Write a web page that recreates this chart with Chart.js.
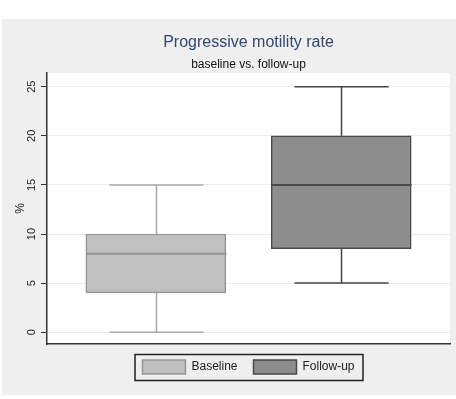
<!DOCTYPE html>
<html>
<head>
<meta charset="utf-8">
<script src="https://cdn.jsdelivr.net/npm/chart.js@4.4.0/dist/chart.umd.min.js"></script>
<style>
body { margin: 0; background: #fff; }
#wrap { position: absolute; left: 2px; top: 19px; width: 454px; height: 376px; background: #efefef; }
</style>
</head>
<body>
<div id="wrap"><canvas id="chart" width="454" height="376"></canvas></div>
<script>
// box plot values
var groups = ["Baseline", "Follow-up"];
var lowWhisker = [0, 5];
var q1 = [4, 8.5];
var median = [8, 15];
var q3 = [10, 20];
var highWhisker = [15, 25];
var yTicks = [0, 5, 10, 15, 20, 25];

// look
var fills = ["#c0c0c0", "#8d8d8d"];
var edges = ["#959595", "#4a4a4a"];
var whiskerColors = ["#a8a8a8", "#454545"];
var capHalf = 0.254; // in x units

Chart.defaults.font.family = "'Liberation Sans', Arial, sans-serif";
Chart.defaults.color = "#222";

var datasets = groups.map(function (g, i) {
    return {
        label: g,
        data: [{ x: i, y: [q1[i], q3[i]] }],
        backgroundColor: fills[i],
        borderColor: edges[i],
        borderWidth: 1.5,
        borderSkipped: false,
        barThickness: 140,
        grouped: false
    };
});

var plotBg = {
    id: "plotBg",
    beforeDraw: function (chart) {
        var a = chart.chartArea, ctx = chart.ctx;
        ctx.save();
        ctx.fillStyle = "#fff";
        ctx.fillRect(a.left, a.top, a.right - a.left, a.bottom - a.top);
        ctx.restore();
    }
};

var boxParts = {
    id: "boxParts",
    afterDatasetsDraw: function (chart) {
        var x = chart.scales.x, y = chart.scales.y, ctx = chart.ctx;
        ctx.save();
        ctx.lineWidth = 1.5;
        for (var i = 0; i < groups.length; i++) {
            var cx = Math.round(x.getPixelForValue(i)) + 0.5;
            var half = x.getPixelForValue(i + capHalf) - x.getPixelForValue(i);
            var boxHalf = 70;
            ctx.strokeStyle = whiskerColors[i];
            ctx.beginPath();
            ctx.moveTo(cx, y.getPixelForValue(q3[i]));
            ctx.lineTo(cx, y.getPixelForValue(highWhisker[i]));
            ctx.moveTo(cx, y.getPixelForValue(q1[i]));
            ctx.lineTo(cx, y.getPixelForValue(lowWhisker[i]));
            ctx.moveTo(cx - half, y.getPixelForValue(highWhisker[i]));
            ctx.lineTo(cx + half, y.getPixelForValue(highWhisker[i]));
            ctx.moveTo(cx - half, y.getPixelForValue(lowWhisker[i]));
            ctx.lineTo(cx + half, y.getPixelForValue(lowWhisker[i]));
            ctx.stroke();
            ctx.strokeStyle = edges[i];
            ctx.lineWidth = 2;
            ctx.beginPath();
            ctx.moveTo(cx - boxHalf, y.getPixelForValue(median[i]));
            ctx.lineTo(cx + boxHalf, y.getPixelForValue(median[i]));
            ctx.stroke();
            ctx.lineWidth = 1.5;
        }
        ctx.restore();
    }
};

var legendFrame = {
    id: "legendFrame",
    afterDraw: function (chart) {
        var boxes = chart.legend.legendHitBoxes;
        if (!boxes || !boxes.length) return;
        var l = Infinity, r = -Infinity, t = Infinity, b = -Infinity;
        boxes.forEach(function (h) {
            l = Math.min(l, h.left); r = Math.max(r, h.left + h.width);
            t = Math.min(t, h.top); b = Math.max(b, h.top + h.height);
        });
        var ctx = chart.ctx;
        ctx.save();
        ctx.strokeStyle = "#222";
        ctx.lineWidth = 1.5;
        ctx.strokeRect(Math.round(l - 7), Math.round(t - 6) + 0.5, Math.round(r - l + 16), Math.round(b - t + 12));
        ctx.restore();
    }
};

new Chart(document.getElementById("chart"), {
    type: "bar",
    data: { datasets: datasets },
    options: {
        responsive: false,
        animation: false,
        layout: { padding: { left: 0, right: 6, top: 0, bottom: 11 } },
        scales: {
            x: {
                type: "linear",
                offset: false,
                min: -0.587,
                max: 1.587,
                ticks: { display: false },
                grid: { display: false, drawTicks: false },
                border: { display: true, color: "#333", width: 1.5 }
            },
            y: {
                min: -1.2,
                max: 26.4,
                afterBuildTicks: function (s) {
                    s.ticks = yTicks.map(function (v) { return { value: v }; });
                },
                afterFit: function (s) { s.width = 45; },
                ticks: {
                    minRotation: 90,
                    maxRotation: 90,
                    crossAlign: "center",
                    padding: 3,
                    font: { size: 11 },
                    color: "#222"
                },
                grid: { color: "#e6eff0", tickColor: "#333", tickLength: 6, lineWidth: 1 },
                border: { display: true, color: "#333", width: 1.5 },
                title: { display: true, text: "%", font: { size: 12 }, color: "#222", padding: { top: 11, bottom: 0 } }
            }
        },
        plugins: {
            title: {
                display: true,
                text: "Progressive motility rate",
                fullSize: false,
                color: "#33476f",
                font: { size: 16, weight: "normal" },
                padding: { top: 14, bottom: 0 }
            },
            subtitle: {
                display: true,
                text: "baseline vs. follow-up",
                fullSize: false,
                color: "#111",
                font: { size: 12 },
                padding: { top: 5, bottom: 1.4 }
            },
            legend: {
                position: "bottom",
                fullSize: false,
                labels: { boxWidth: 43, boxHeight: 14, padding: 16, font: { size: 12 }, color: "#222" }
            },
            tooltip: { enabled: false }
        }
    },
    plugins: [plotBg, boxParts, legendFrame]
});
</script>
</body>
</html>
